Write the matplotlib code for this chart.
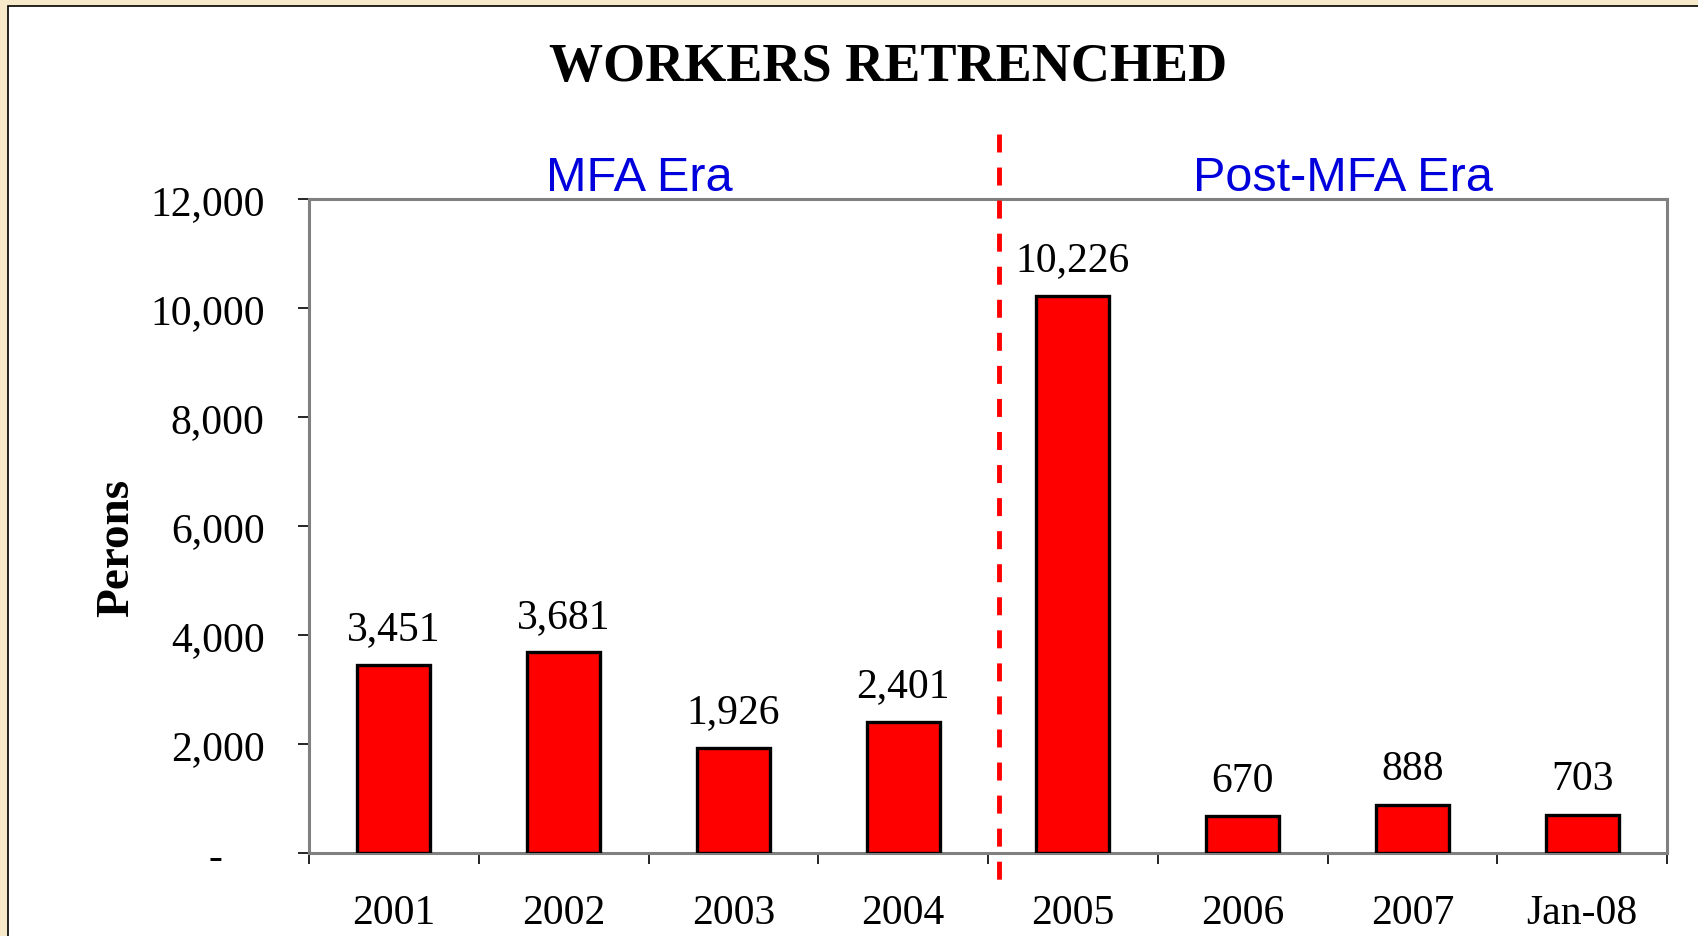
import numpy as np
import matplotlib.pyplot as plt
from matplotlib.patches import Rectangle
from matplotlib.ticker import FuncFormatter

# data
categories = ["2001", "2002", "2003", "2004", "2005", "2006", "2007", "Jan-08"]
workers = [3451, 3681, 1926, 2401, 10226, 670, 888, 703]
y_ticks = [0, 2000, 4000, 6000, 8000, 10000, 12000]

serif = "Liberation Serif"
sans = "Liberation Sans"

fig = plt.figure(figsize=(16.98, 9.37), dpi=100)
fig.patch.set_facecolor("#F6EACB")

# white panel with black border (runs off the right and bottom edges)
panel = Rectangle((8 / 1698, -0.1), 1.2, 0.1 + 1 - 7 / 937, transform=fig.transFigure,
                  facecolor="white", edgecolor="black", linewidth=1.2, zorder=-10)
fig.patches.append(panel)

ax = fig.add_axes([309 / 1698, 1 - 854 / 937, (1667 - 309) / 1698, (854 - 200) / 937])
ax.set_facecolor("white")

x = np.arange(len(categories))
bars = ax.bar(x, workers, width=0.43, color="#FF0000", edgecolor="black", linewidth=2.4, zorder=3)

for xi, v in zip(x, workers):
    ax.annotate(f"{v:,}", (xi, v), xytext=(0, 12), textcoords="offset points",
                ha="center", va="bottom", fontsize=30, family=serif)

ax.set_xlim(-0.5, len(categories) - 0.5)
ax.set_ylim(0, 12000)

# y axis
ax.set_yticks(y_ticks)
ax.yaxis.set_major_formatter(FuncFormatter(lambda v, p: "-    " if v == 0 else f"{v:,.0f}"))
ax.tick_params(axis="y", length=8, width=1.2, color="black", pad=24, labelsize=30)
for lab in ax.get_yticklabels():
    lab.set_family(serif)

# x axis: ticks between categories, labels at centres
ax.set_xticks(np.arange(-0.5, len(categories)), labels=[""] * (len(categories) + 1))
ax.tick_params(axis="x", which="major", length=8, width=1.2, color="black")
ax.set_xticks(x, labels=categories, minor=True)
ax.tick_params(axis="x", which="minor", length=0, pad=29, labelsize=30)
for lab in ax.get_xticklabels(minor=True):
    lab.set_family(serif)

for s in ax.spines.values():
    s.set_color("#808080")
    s.set_linewidth(2.2)

ax.set_ylabel("Perons", fontsize=34, fontweight="bold", family=serif, va="center")
ax.yaxis.set_label_coords(-0.1414, 0.468)

# era divider
ax.plot([3.565, 3.565], [1.099, -0.05], transform=ax.get_xaxis_transform(),
        color="#FF0000", linewidth=3.5, linestyle=(0, (3.7, 3.1)), clip_on=False, zorder=4)

fig.text(639 / 1698, 1 - 179 / 937, "MFA Era", color="#0000DD", fontsize=35,
         family=sans, ha="center", va="center")
fig.text(1343 / 1698, 1 - 179 / 937, "Post-MFA Era", color="#0000DD", fontsize=35,
         family=sans, ha="center", va="center")

fig.text(888 / 1698, 1 - 68 / 937, "WORKERS RETRENCHED", fontsize=39, fontweight="bold",
         family=serif, ha="center", va="center")

fig.savefig("out.png", dpi=100, facecolor=fig.get_facecolor())
